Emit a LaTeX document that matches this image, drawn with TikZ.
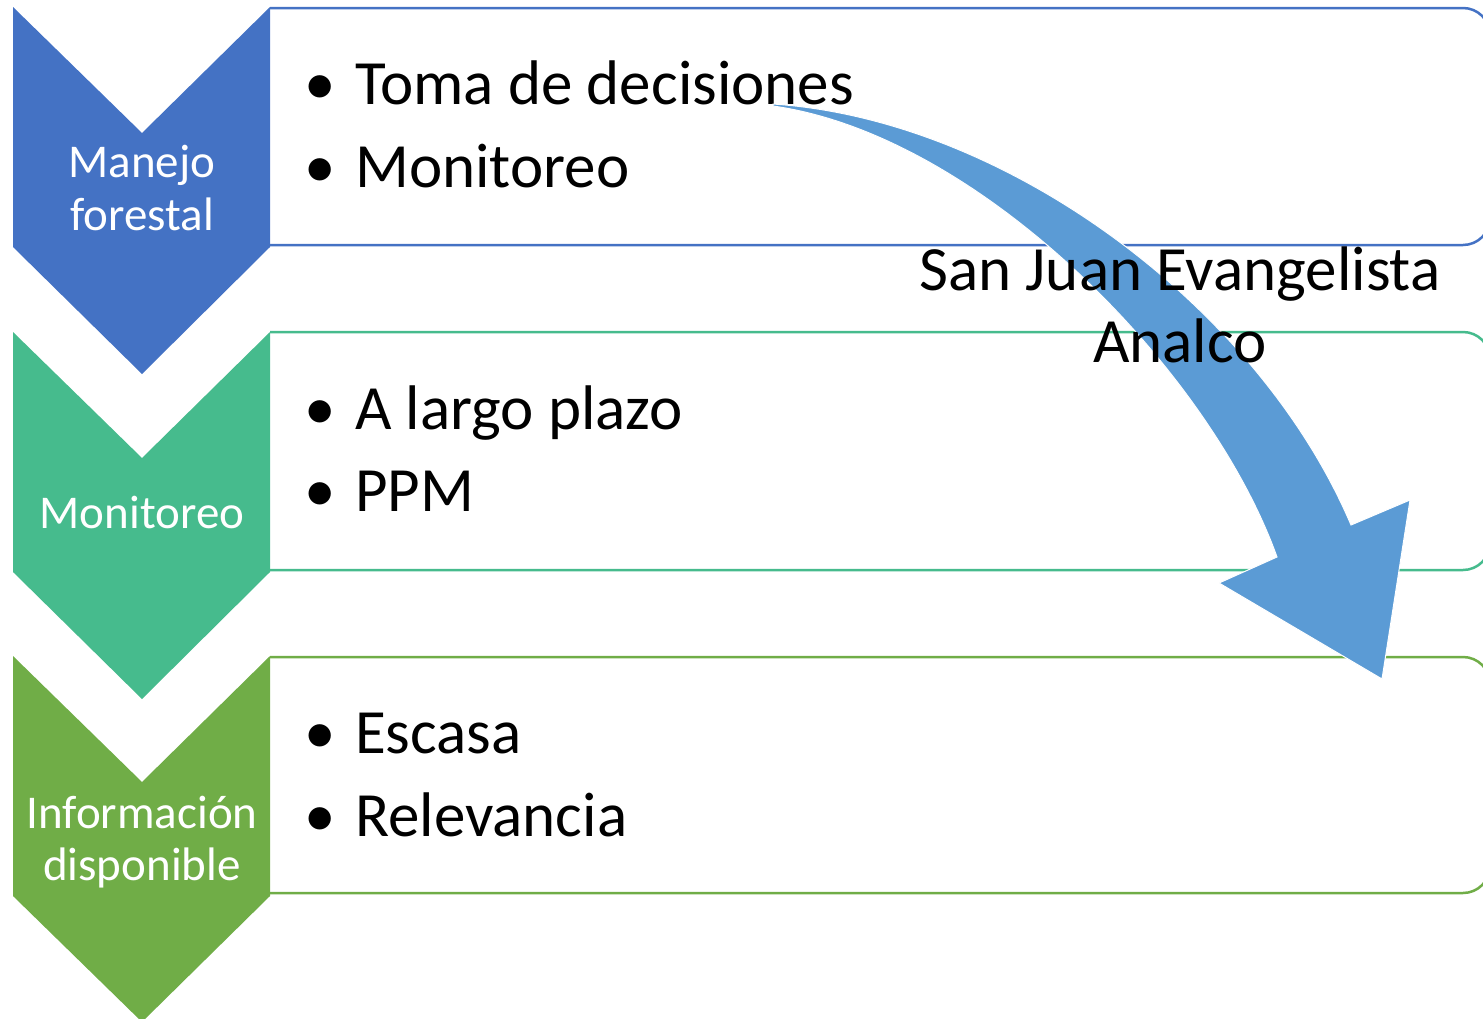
\documentclass[tikz,border=0pt]{standalone}
\usepackage{fontspec}
\setmainfont{Carlito}
\definecolor{cA}{HTML}{4472C4}
\definecolor{cB}{HTML}{46BB8D}
\definecolor{cC}{HTML}{70AD47}
\definecolor{arr}{HTML}{5B9BD5}
\begin{document}
\begin{tikzpicture}[x=1pt,y=-1pt,
  boxline/.style={line width=2.5pt, rounded corners=27pt},
  lbl/.style={text=white, font=\fontsize{47}{56}\selectfont, inner sep=0pt, anchor=base},
  item/.style={font=\fontsize{63}{76}\selectfont, inner sep=0pt, anchor=base west},
  bul/.style={font=\fontsize{63}{76}\selectfont, inner sep=0pt, anchor=base},
  big/.style={font=\fontsize{63}{76}\selectfont, inner sep=0pt, anchor=base}]
\useasboundingbox (0,0) rectangle (1483,1018);
% boxes
\draw[boxline, draw=cA] (270,8) -- (1490,8) -- (1490,245) -- (270,245);
\draw[boxline, draw=cB] (270,332) -- (1490,332) -- (1490,570) -- (270,570);
\draw[boxline, draw=cC] (270,657) -- (1490,657) -- (1490,893) -- (270,893);
% chevrons
\fill[cA] (13,7) -- (142,133) -- (270,7) -- (270,247) -- (142,374) -- (13,247) -- cycle;
\fill[cB] (13,332) -- (142,458) -- (270,332) -- (270,572) -- (142,699) -- (13,572) -- cycle;
\fill[cC] (13,656) -- (142,782) -- (270,656) -- (270,896) -- (142,1022) -- (13,896) -- cycle;
% chevron labels
\node[lbl] (l1a) at (142,177) {Manejo};
\node[lbl] (l1b) at (142,230) {forestal};
\node[lbl] (l2) at (142,528) {Monitoreo};
\node[lbl] (l3a) at (142,828) {Información};
\node[lbl] (l3b) at (142,880) {disponible};
% bullets
\node[bul] (b1) at (320,104) {•};
\node[item] (t1) at (355,104) {Toma de decisiones};
\node[bul] (b2) at (320,187) {•};
\node[item] (t2) at (355,187) {Monitoreo};
\node[bul] (b3) at (320,429) {•};
\node[item] (t3) at (355,429) {A largo plazo};
\node[bul] (b4) at (320,511) {•};
\node[item] (t4) at (355,511) {PPM};
\node[bul] (b5) at (320,753) {•};
\node[item] (t5) at (355,753) {Escasa};
\node[bul] (b6) at (320,836) {•};
\node[item] (t6) at (355,836) {Relevancia};
% curved arrow
\filldraw[fill=arr, draw=white, line width=1pt, line join=miter]
  (773,104) .. controls (1010,120) and (1260,310) .. (1351,525)
  -- (1410,500) -- (1382,679) -- (1219,583) -- (1277,557)
  .. controls (1210,370) and (980,135) .. (773,106) -- cycle;
% label
\node[big] (s1) at (1180,290) {San Juan Evangelista};
\node[big] (s2) at (1180,362) {Analco};
\end{tikzpicture}
\end{document}
